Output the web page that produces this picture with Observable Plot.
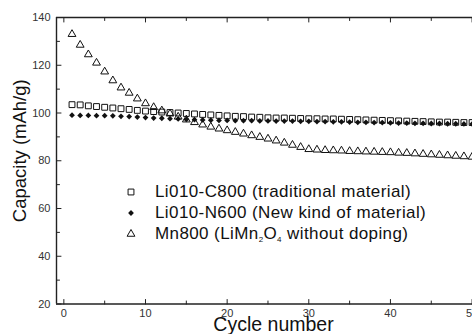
<!DOCTYPE html>
<html><head><meta charset="utf-8">
<script src="https://cdn.jsdelivr.net/npm/d3@7"></script>
<script src="https://cdn.jsdelivr.net/npm/@observablehq/plot@0.6"></script>
<style>
html,body{margin:0;padding:0;background:#fff;overflow:hidden}
#wrap{position:relative;width:472px;height:334px;font-family:Arial,"Liberation Sans",sans-serif}
#legend{position:absolute;left:125px;top:181.5px;font-size:17px;color:#111;letter-spacing:0.4px}
.row{height:21px;display:flex;align-items:center;white-space:nowrap}
.row svg{width:12px;height:12px;margin-right:18px;flex:none}
sub{font-size:8px;vertical-align:-3px;line-height:0;color:#111}
</style></head>
<body><div id="wrap"><div id="legend"></div></div>
<script>
const cycles = [1,2,3,4,5,6,7,8,9,10,11,12,13,14,15,16,17,18,19,20,21,22,23,24,25,26,27,28,29,30,31,32,33,34,35,36,37,38,39,40,41,42,43,44,45,46,47,48,49,50];
const c800 = [103.5,103.4,103,102.7,102.4,102.1,101.8,101.5,101.1,100.8,100.6,100.4,100.2,100,99.8,99.6,99.4,99.2,99,98.8,98.6,98.5,98.3,98.2,98,97.9,97.9,97.8,97.7,97.6,97.6,97.5,97.5,97.4,97.3,97.2,97.1,97,96.9,96.8,96.7,96.6,96.5,96.4,96.3,96.2,96.2,96.1,96,96];
const n600 = [99.1,99,99,98.9,98.9,98.8,98.6,98.5,98.3,98.1,97.9,97.8,97.6,97.5,97.3,97.2,97.1,97,96.9,96.9,96.8,96.8,96.8,96.7,96.7,96.6,96.6,96.6,96.5,96.5,96.4,96.4,96.3,96.3,96.2,96.1,96.1,96,96,95.9,95.8,95.8,95.7,95.7,95.6,95.6,95.5,95.5,95.4,95.4];
const mn800 = [133,128.5,124.5,121,117.3,113.6,110.6,108.4,106,104,102.4,101,99.7,98.4,97.2,96.1,95.1,94.2,93.4,92.7,92,91.3,90.6,89.9,89.2,88.4,87.5,86.6,85.7,84.8,84.6,84.4,84.3,84.2,84,83.9,83.8,83.7,83.6,83.5,83.3,83.2,83,82.8,82.6,82.4,82.2,82,81.8,81.6];
const seriesNames = ["Li010-C800 (traditional material)","Li010-N600 (New kind of material)","Mn800 (LiMn2O4 without doping)"];
const xMajor = [0,10,20,30,40,50], xMinor = [5,15,25,35,45];
const yMajor = [20,40,60,80,100,120,140], yMinor = [30,50,70,90,110,130];
const xDomain = [-0.9, 50.05], yDomain = [20, 140];
const axisTitles = ["Cycle number","Capacity (mAh/g)"];

const toRows = vals => cycles.map((c,i)=>({cycle:c, v:vals[i]}));
const ink = "#111", frameInk = "#222";
const tickShape = {draw(ctx, l){ ctx.moveTo(0,0); ctx.lineTo(0,-l); }};
const ticks = (data, side, len) => {
  const horiz = side === "top" || side === "bottom";
  const rot = {bottom:0, top:180, left:90}[side];
  return Plot.vector(data, {
    [horiz ? "x" : "y"]: d => d, frameAnchor: side, length: len, rotate: rot,
    anchor: "start", shape: tickShape, stroke: frameInk, strokeWidth: 1
  });
};

const chart = Plot.plot({
  width:472, height:334, marginLeft:56, marginRight:0, marginTop:17, marginBottom:30.5,
  x:{domain:xDomain, label:null}, y:{domain:yDomain, label:null},
  style:{fontFamily:"Arial, 'Liberation Sans', sans-serif", background:"transparent", overflow:"visible"},
  marks:[
    Plot.ruleY(yDomain, {stroke:frameInk, strokeWidth:1.4}),
    Plot.ruleX([xDomain[0]], {stroke:frameInk, strokeWidth:1.4}),
    ticks(xMajor, "bottom", 4.5), ticks(xMinor, "bottom", 3),
    ticks(xMajor, "top", 4.5), ticks(xMinor, "top", 3),
    ticks(yMajor, "left", 4.5), ticks(yMinor, "left", 3),
    Plot.axisX(xMajor, {anchor:"bottom", tickSize:0, tickPadding:5.5, fontSize:11, fill:"#333"}),
    Plot.axisY(yMajor, {anchor:"left", tickSize:0, tickPadding:6, fontSize:11, fill:"#333"}),
    Plot.text([axisTitles[0]], {frameAnchor:"bottom", textAnchor:"middle", lineAnchor:"middle", dx:9, dy:20.5, fontSize:19.5, fill:ink}),
    Plot.text([axisTitles[1]], {frameAnchor:"left", textAnchor:"middle", lineAnchor:"middle", dx:-36, dy:-10, rotate:-90, fontSize:18.5, fill:ink}),
    Plot.dot(toRows(c800), {x:"cycle", y:"v", symbol:"square", r:3.3, stroke:ink, strokeWidth:1, fill:"none"}),
    Plot.dot(toRows(n600), {x:"cycle", y:"v", symbol:"diamond2", r:2.6, fill:ink, stroke:"none"}),
    Plot.dot(toRows(mn800), {x:"cycle", y:"v", symbol:"triangle", r:2.9, stroke:ink, strokeWidth:1, fill:"none"})
  ]
});
const wrap = document.getElementById("wrap");
wrap.insertBefore(chart, wrap.firstChild);
chart.style.position="absolute"; chart.style.left="0"; chart.style.top="0";

const legend = document.getElementById("legend");
const syms = [[d3.symbolSquare,3.3,false],[d3.symbolDiamond2,2.6,true],[d3.symbolTriangle,2.9,false]];
seriesNames.forEach((name,i)=>{
  const [sym,r,filled] = syms[i];
  const row = document.createElement("div"); row.className="row";
  const p = d3.symbol(sym, Math.PI*r*r)();
  row.innerHTML = `<svg viewBox="-6 -6 12 12"><path d="${p}" fill="${filled?ink:'none'}" stroke="${filled?'none':ink}" stroke-width="1"/></svg>`;
  const span = document.createElement("span");
  span.innerHTML = name.replace("LiMn2O4","LiMn<sub>2</sub>O<sub>4</sub>");
  row.appendChild(span);
  legend.appendChild(row);
});
</script></body></html>
